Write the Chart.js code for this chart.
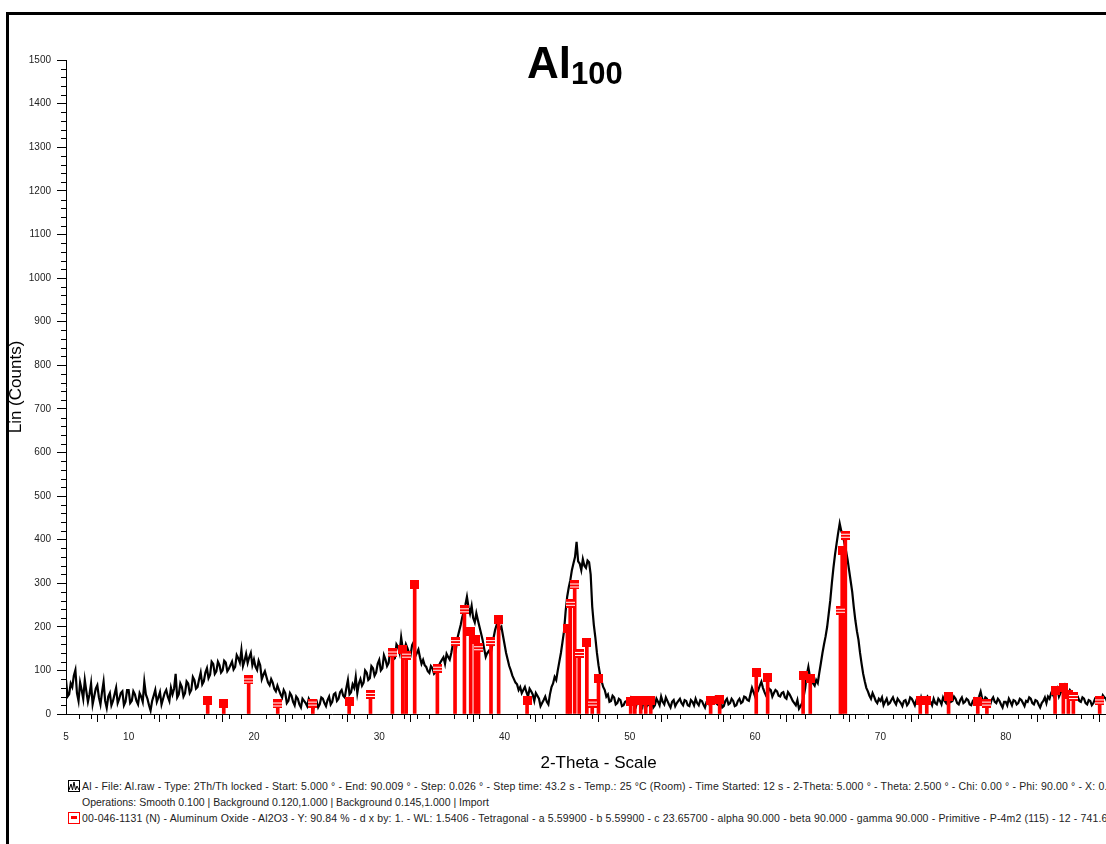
<!DOCTYPE html>
<html>
<head>
<meta charset="utf-8">
<title>Al100</title>
<script src="https://cdn.jsdelivr.net/npm/chart.js"></script>
<style>
  html, body { margin: 0; padding: 0; background: #fff; }
  body { width: 1106px; height: 844px; overflow: hidden; position: relative; font-family: "Liberation Sans", Arial, sans-serif; }
  #frame { position: absolute; left: 6px; top: 12px; width: 1200px; height: 900px; border: 3px solid #000; box-sizing: border-box; }
  #myChart { position: absolute; left: 0; top: 0; }
  #title { position: absolute; left: 527px; top: 41px; font-size: 44px; font-weight: bold; line-height: 44px; white-space: nowrap; color: #000; }
  #title sub { font-size: 31px; vertical-align: -6px; line-height: 0; }
  #legend { position: absolute; left: 68px; top: 778px; font-size: 10.5px; line-height: 16px; color: #222; white-space: nowrap; }
  #legend .wide { letter-spacing: 0.15px; }
  #legend .ind { padding-left: 14px; }
  .ico { display: inline-block; width: 12px; height: 12px; vertical-align: -2px; margin-right: 2px; box-sizing: border-box; position: relative; }
  .ico.al { border: 1px solid #000; }
  .ico.ref { border: 1.5px solid #f00; }
  .ico.ref:after { content: ""; position: absolute; left: 1.5px; top: 3px; width: 6px; height: 3px; background: #f00; }
</style>
</head>
<body>
<div id="frame"></div>
<canvas id="myChart" width="1140" height="778"></canvas>
<div id="title">Al<sub>100</sub></div>
<div id="legend">
  <div class="wide"><span class="ico al"><svg width="10" height="10" viewBox="0 0 10 10" style="position:absolute;left:0;top:0"><polyline points="0,9 2,3 3.5,9 5,1 6.5,9 8,5 10,9" fill="none" stroke="#000" stroke-width="1"/></svg></span>Al - File: Al.raw - Type: 2Th/Th locked - Start: 5.000 ° - End: 90.009 ° - Step: 0.026 ° - Step time: 43.2 s - Temp.: 25 °C (Room) - Time Started: 12 s - 2-Theta: 5.000 ° - Theta: 2.500 ° - Chi: 0.00 ° - Phi: 90.00 ° - X: 0.0 mm - Y: 0.0 mm - Z: 0.0 mm</div>
  <div class="ind">Operations: Smooth 0.100 | Background 0.120,1.000 | Background 0.145,1.000 | Import</div>
  <div class="wide"><span class="ico ref"></span>00-046-1131 (N) - Aluminum Oxide - Al2O3 - Y: 90.84 % - d x by: 1. - WL: 1.5406 - Tetragonal - a 5.59900 - b 5.59900 - c 23.65700 - alpha 90.000 - beta 90.000 - gamma 90.000 - Primitive - P-4m2 (115) - 12 - 741.600 - F30= 2(0.0240,664)</div>
</div>
<script>
// measured pattern, 2-theta from 5 to 90 deg, read every 0.125 deg (one row = 5 deg)
const countsStart = 5.0;
const countsStep = 0.125;
const countsAl = [
  78,40,45,70,62,88,101,48,30,72,55,35,78,52,28,45,70,22,40,58,66,38,22,50,74,30,14,40,48,20,30,45,60,25,35,48,52,20,28,55,
  55,25,30,52,45,30,22,48,40,28,74,45,35,20,8,30,42,55,28,38,50,22,35,48,55,40,30,60,45,58,92,38,45,70,62,40,48,75,70,48,
  55,85,78,58,62,80,95,68,75,95,105,82,90,120,115,92,98,120,112,95,100,122,118,98,104,112,120,102,108,135,128,118,147,110,122,138,117,130,140,112,
  125,108,101,122,112,80,90,98,85,72,66,80,72,58,52,65,55,45,38,55,48,25,30,48,42,28,20,40,35,22,15,35,30,25,18,35,28,20,12,28,
  30,15,22,38,35,25,18,32,40,22,28,45,48,30,35,50,55,42,38,60,78,45,50,68,60,85,48,70,80,65,72,100,95,78,82,110,105,88,95,115,
  124,100,105,135,125,110,117,145,140,125,128,160,154,140,176,150,145,160,151,140,135,158,165,132,140,148,130,115,124,112,108,98,94,110,105,92,96,108,110,118,
  124,130,115,138,131,125,140,160,163,150,175,190,204,222,235,250,269,245,230,248,220,210,231,215,200,185,170,150,131,140,145,135,154,175,193,205,210,195,200,180,
  160,140,125,110,100,88,80,72,68,55,62,48,55,62,50,40,58,52,45,30,48,42,35,18,25,32,40,28,22,45,62,70,85,78,100,120,140,165,190,235,
  269,290,307,330,345,360,395,350,345,330,355,340,335,352,348,320,246,205,175,140,112,90,75,62,55,40,45,28,30,42,38,22,25,35,32,18,20,28,30,22,
  22,38,35,25,18,32,28,20,15,35,30,18,22,30,35,15,20,35,28,20,40,28,22,38,30,22,15,28,32,18,25,30,35,25,20,32,30,20,18,32,
  28,20,35,25,20,32,30,22,15,28,32,20,25,35,38,25,22,32,30,15,18,30,35,22,25,35,30,18,20,30,35,25,28,40,38,32,30,45,60,50,
  40,62,55,65,74,60,50,42,45,58,55,40,48,55,52,42,40,48,50,38,35,50,45,38,30,25,20,32,12,18,25,40,60,90,108,85,74,70,65,78,
  71,95,117,140,160,178,200,230,261,300,335,365,390,415,437,420,410,392,375,355,330,305,280,245,215,190,170,140,115,92,75,60,52,42,35,48,40,30,25,35,
  30,38,20,28,35,22,25,32,38,28,22,35,30,25,18,30,32,20,25,38,35,28,20,32,30,22,38,25,25,35,40,30,28,20,35,25,22,35,30,22,
  38,30,25,35,40,28,30,40,35,25,22,32,38,25,28,35,32,22,20,30,35,25,30,40,51,35,28,38,35,25,20,32,38,28,25,35,30,22,15,28,
  28,20,35,28,20,32,30,22,25,35,32,25,18,30,28,38,35,25,22,32,30,22,15,25,30,38,25,40,35,48,45,38,50,58,40,48,55,45,63,52,
  45,55,50,38,35,45,40,30,28,38,35,25,22,32,30,20,25,35,32,28,20,30,43,38,35,25,30,35,38,22,28,35,32,28,25,38,35,25,30,40,
  30
];

// 00-046-1131 reference lines
const stickTheta = [16.31, 17.59, 19.58, 21.90, 24.70, 27.60, 29.30, 31.05, 31.88, 32.15,
  32.83, 34.64, 36.05, 36.80, 37.30, 37.67, 37.93, 38.92, 39.53, 41.80,
  45.02, 45.24, 45.60, 45.96, 46.57, 47.00, 47.50, 50.07, 50.40, 50.87,
  51.27, 51.67, 56.45, 57.17, 60.09, 61.00, 63.83, 64.40, 66.81, 66.95,
  67.20, 73.18, 73.70, 75.44, 77.77, 78.50, 83.94, 84.60, 85.00, 85.40, 87.50];
const stickCounts = [30, 25, 78, 23, 25, 28, 45, 140, 148, 135,
  298, 105, 166, 239, 189, 170, 152, 166, 216, 32,
  195, 254, 296, 139, 163, 25, 82, 28, 30, 30,
  30, 30, 32, 34, 96, 83, 88, 82, 238, 374,
  410, 32, 32, 40, 28, 25, 55, 60, 45, 40, 30];
const stickDouble = [0, 0, 1, 1, 1, 0, 1, 1, 0, 1,
  0, 1, 1, 1, 0, 0, 1, 1, 0, 0,
  0, 1, 1, 1, 0, 1, 0, 0, 0, 0,
  0, 0, 0, 0, 0, 0, 0, 0, 1, 0,
  1, 0, 0, 0, 0, 1, 0, 0, 0, 1, 1];

const xMajorTicks = [5, 10, 15, 20, 25, 30, 35, 40, 45, 50, 55, 60, 65, 70, 75, 80, 85, 90];
const xLabelTicks = [5, 10, 20, 30, 40, 50, 60, 70, 80];
const yMajorTicks = [0, 100, 200, 300, 400, 500, 600, 700, 800, 900, 1000, 1100, 1200, 1300, 1400, 1500];

const fontFam = '"Liberation Sans", Arial, sans-serif';

function markerImage(dbl){
  const c = document.createElement('canvas');
  c.width = 9; c.height = 9;
  const g = c.getContext('2d');
  g.fillStyle = '#ff0000';
  g.fillRect(0, 0, 9, 9);
  if(dbl){
    g.fillStyle = '#ffffff';
    g.fillRect(0, 3, 9, 1);
    g.fillRect(0, 6, 9, 1);
  }
  return c;
}
const markSingle = markerImage(false);
const markDouble = markerImage(true);

const minorTicks = {
  id: 'minorTicks',
  afterDraw(chart){
    const {ctx, scales: {x, y}} = chart;
    ctx.save();
    ctx.strokeStyle = '#000';
    ctx.lineWidth = 1;
    ctx.beginPath();
    for(let v = 6; v < 90; v++){
      if(v % 5 === 0) continue;
      const px = Math.round(x.getPixelForValue(v)) + 0.5;
      ctx.moveTo(px, y.bottom);
      ctx.lineTo(px, y.bottom + 5);
    }
    for(let v = 20; v < 1500; v += 20){
      if(v % 100 === 0) continue;
      const py = Math.round(y.getPixelForValue(v)) + 0.5;
      ctx.moveTo(x.left - 5, py);
      ctx.lineTo(x.left, py);
    }
    ctx.stroke();
    ctx.restore();
  }
};

const curve = countsAl.map((c, i) => ({x: countsStart + i * countsStep, y: c}));
const sticks = stickTheta.map((t, i) => ({x: t, y: stickCounts[i]}));

const ctx = document.getElementById('myChart');
new Chart(ctx, {
  type: 'line',
  data: {
    datasets: [
      {
        label: 'Al',
        data: curve,
        borderColor: '#000',
        borderWidth: 2.2,
        pointRadius: 0,
        tension: 0,
        fill: false,
        order: 3
      },
      {
        type: 'bar',
        label: '00-046-1131',
        data: sticks,
        backgroundColor: '#ff0000',
        borderWidth: 0,
        barThickness: 3,
        order: 2
      },
      {
        label: 'marks',
        data: sticks,
        showLine: false,
        pointStyle: stickDouble.map(d => d ? markDouble : markSingle),
        pointRadius: 4,
        order: 1
      }
    ]
  },
  options: {
    responsive: false,
    animation: false,
    devicePixelRatio: 1,
    layout: { padding: { left: 2, top: 60, right: 7, bottom: 0 } },
    plugins: { legend: { display: false }, tooltip: { enabled: false } },
    scales: {
      x: {
        type: 'linear',
        min: 5,
        max: 90.009,
        offset: false,
        afterBuildTicks: s => { s.ticks = xMajorTicks.map(v => ({value: v})); },
        ticks: {
          autoSkip: false,
          maxRotation: 0,
          padding: 9,
          color: '#222',
          font: { size: 10, family: fontFam },
          callback: v => xLabelTicks.includes(v) ? String(v) : ''
        },
        grid: { drawOnChartArea: false, tickLength: 8, tickColor: '#000', color: '#000' },
        border: { color: '#000', width: 1 },
        title: { display: true, text: '2-Theta - Scale', color: '#000', font: { size: 17, family: fontFam }, padding: { top: 4, bottom: 4 } },
        afterFit: s => { s.height = 64; }
      },
      y: {
        type: 'linear',
        min: 0,
        max: 1500,
        afterBuildTicks: s => { s.ticks = yMajorTicks.map(v => ({value: v})); },
        ticks: {
          autoSkip: false,
          padding: 6,
          color: '#222',
          font: { size: 10, family: fontFam },
          callback: v => String(v)
        },
        grid: { drawOnChartArea: false, tickLength: 9, tickColor: '#000', color: '#000' },
        border: { color: '#000', width: 1 },
        title: { display: true, text: 'Lin (Counts)', color: '#000', font: { size: 17, family: fontFam }, padding: { top: 4, bottom: 4 } },
        afterFit: s => { s.width = 64; }
      }
    }
  },
  plugins: [minorTicks]
});
</script>
</body>
</html>
